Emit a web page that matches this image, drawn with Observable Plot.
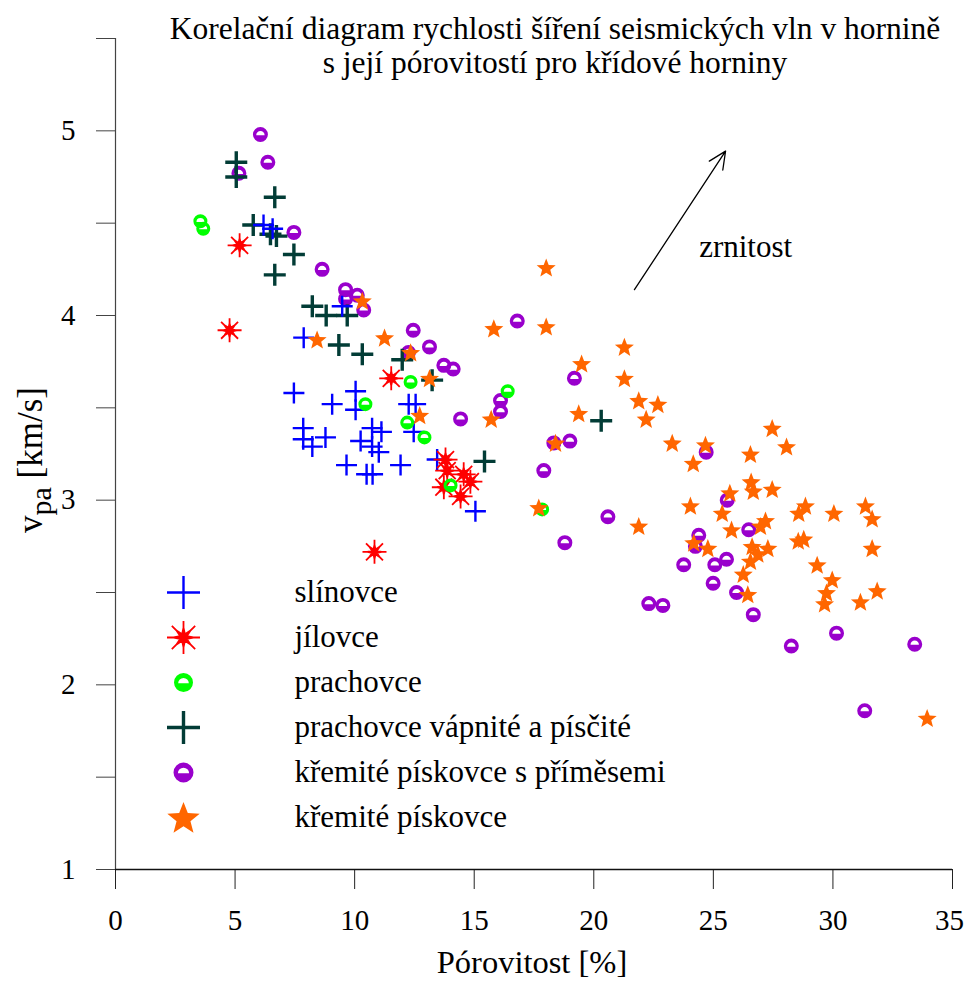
<!DOCTYPE html>
<html><head><meta charset="utf-8">
<script src="https://cdn.jsdelivr.net/npm/d3@7"></script>
<script src="https://cdn.jsdelivr.net/npm/@observablehq/plot@0.6"></script>
<style>
body{margin:0;background:#fff}
svg text, svg tspan {font-family: "Liberation Serif", "Times New Roman", serif !important;}
</style>
</head><body><div id="chart"></div>
<script>
// ---------- texts ----------
const titleText = "Korelační diagram rychlosti šíření seismických vln v hornině\ns její pórovitostí pro křídové horniny";
const xLabel = "Pórovitost [%]";
const yLabelMain = "v", yLabelSub = "pa", yLabelRest = " [km/s]";
const seriesNames = ["slínovce", "jílovce", "prachovce", "prachovce vápnité a písčité", "křemité pískovce s příměsemi", "křemité pískovce"];

// ---------- ticks ----------
const xTicks = [0, 5, 10, 15, 20, 25, 30, 35];
const xTickLabels = ["0", "5", "10", "15", "20", "25", "30", "35"];
const yTicks = [1, 1.5, 2, 2.5, 3, 3.5, 4, 4.5, 5, 5.5];
const yTickLabels = ["1", "", "2", "", "3", "", "4", "", "5", ""];

// ---------- data [porosity %, vpa km/s] ----------
const slinovce = [[6.19,4.49],[6.57,4.47],[9.48,4.05],[7.87,3.88],[7.46,3.58],[9.06,3.52],[10.04,3.59],[10.04,3.49],[12.26,3.52],[12.55,3.52],[12.47,3.37],[7.85,3.39],[7.85,3.33],[8.23,3.29],[8.78,3.34],[10.25,3.32],[10.73,3.39],[11.12,3.37],[10.73,3.29],[11.01,3.26],[9.66,3.19],[10.50,3.14],[10.75,3.14],[11.92,3.19],[13.45,3.22],[15.05,2.94]];
const jilovce = [[4.77,3.92],[5.19,4.38],[11.53,3.66],[10.83,2.72],[13.80,3.22],[13.87,3.16],[14.56,3.14],[14.84,3.10],[13.73,3.07],[14.43,3.02]];
const prachovce = [[3.55,4.51],[3.67,4.47],[10.45,3.52],[12.34,3.64],[12.20,3.42],[12.92,3.34],[16.40,3.59],[14.01,3.08],[17.84,2.95]];
const prachovceVapnite = [[5.05,4.83],[5.05,4.75],[6.66,4.64],[5.76,4.49],[6.48,4.44],[6.73,4.43],[7.46,4.33],[6.66,4.22],[8.23,4.05],[8.81,4.00],[9.69,4.00],[9.34,3.84],[10.32,3.79],[11.99,3.76],[13.24,3.65],[15.43,3.21],[20.31,3.43]];
const piskovcePrimesi = [[6.06,4.98],[6.37,4.83],[5.16,4.77],[7.46,4.45],[8.64,4.25],[9.62,4.14],[10.11,4.11],[9.62,4.09],[10.38,4.03],[12.45,3.92],[12.25,3.80],[13.13,3.83],[13.73,3.73],[14.12,3.71],[16.80,3.97],[16.10,3.54],[16.10,3.48],[14.43,3.44],[19.19,3.66],[18.33,3.31],[19.00,3.32],[17.91,3.16],[20.59,2.91],[18.79,2.77],[24.70,3.26],[25.58,3.00],[26.48,2.84],[24.39,2.81],[24.25,2.75],[23.76,2.65],[25.06,2.65],[25.55,2.68],[24.99,2.55],[25.97,2.50],[22.30,2.44],[22.89,2.43],[26.67,2.38],[30.15,2.28],[28.26,2.21],[33.42,2.22],[31.33,1.86]];
const piskovce = [[10.32,4.08],[8.43,3.87],[11.25,3.88],[12.34,3.80],[13.13,3.66],[12.72,3.46],[15.82,3.93],[18.01,3.94],[18.01,4.26],[15.71,3.44],[17.70,2.96],[21.28,3.83],[19.49,3.74],[21.28,3.66],[21.88,3.54],[22.68,3.52],[22.19,3.44],[19.37,3.47],[18.40,3.31],[23.28,3.31],[24.67,3.30],[24.16,3.20],[27.46,3.39],[28.06,3.29],[26.55,3.25],[26.58,3.10],[27.46,3.06],[26.67,3.05],[25.69,3.04],[24.04,2.97],[25.37,2.93],[25.76,2.84],[26.97,2.86],[27.18,2.89],[28.85,2.97],[28.57,2.93],[30.04,2.93],[31.36,2.97],[31.64,2.90],[31.64,2.74],[28.55,2.78],[28.78,2.79],[24.18,2.77],[24.77,2.74],[26.62,2.75],[27.28,2.74],[26.86,2.71],[26.55,2.67],[26.25,2.60],[26.44,2.49],[29.34,2.65],[29.97,2.57],[29.73,2.50],[29.65,2.44],[31.15,2.45],[31.85,2.51],[33.94,1.82],[21.88,2.86]];

// ---------- annotation ----------
const arrowData = [{x1: 21.70, y1: 4.14, x2: 25.51, y2: 4.89}];
const annotationData = [{x: 26.35, y: 4.37, label: "zrnitost"}];

// ---------- custom symbols ----------
const plusSym = {draw(c, s) { const r = Math.sqrt(s / Math.PI); c.moveTo(-r, 0); c.lineTo(r, 0); c.moveTo(0, -r); c.lineTo(0, r); }};
const asteriskSym = {draw(c, s) {
  const r = Math.sqrt(s / Math.PI);
  for (let k = 0; k < 4; k++) { const a = k * Math.PI / 4; c.moveTo(-r * Math.cos(a), -r * Math.sin(a)); c.lineTo(r * Math.cos(a), r * Math.sin(a)); }
  const ro = r * 0.6, ri = r * 0.22;
  for (let k = 0; k < 16; k++) { const a = k * Math.PI / 8; const rr = k % 2 ? ri : ro; const px = rr * Math.cos(a), py = rr * Math.sin(a); if (k) c.lineTo(px, py); else c.moveTo(px, py); }
  c.closePath();
}};
const bucketSym = {draw(c, s) {
  const R = Math.sqrt(s / Math.PI);
  c.moveTo(R, 0); c.arc(0, 0, R, 0, 2 * Math.PI, false);
  const h = R * 0.56, y0 = R * 0.08;
  c.moveTo(h, y0); c.arc(0, y0, h, 0, -Math.PI, true); c.closePath();
}};
const starSym = {draw(c, s) {
  const R = Math.sqrt(s / Math.PI), ri = R * 0.43, off = R * 0.09;
  for (let k = 0; k < 10; k++) { const a = -Math.PI / 2 + k * Math.PI / 5; const rr = k % 2 ? ri : R; const px = rr * Math.cos(a), py = rr * Math.sin(a) + off; if (k) c.lineTo(px, py); else c.moveTo(px, py); }
  c.closePath();
}};

// ---------- series styling (built from the arrays above) ----------
const series = [
  {name: seriesNames[0], data: slinovce, symbol: plusSym, color: "#0000ff", r: 10.5, lr: 16.5, sw: 2.4, filled: false},
  {name: seriesNames[1], data: jilovce, symbol: asteriskSym, color: "#ff0000", r: 12, lr: 16.5, sw: 1.8, filled: true},
  {name: seriesNames[2], data: prachovce, symbol: bucketSym, color: "#00ff00", r: 7, lr: 9.5, sw: 0, filled: true},
  {name: seriesNames[3], data: prachovceVapnite, symbol: plusSym, color: "#023c36", r: 11, lr: 16.5, sw: 3.4, filled: false},
  {name: seriesNames[4], data: piskovcePrimesi, symbol: bucketSym, color: "#9900cc", r: 7.5, lr: 10, sw: 0, filled: true},
  {name: seriesNames[5], data: piskovce, symbol: starSym, color: "#ff6600", r: 10, lr: 17, sw: 0, filled: true}
];
const drawOrder = [4, 3, 0, 1, 2, 5];
const serif = "Liberation Serif";

function dotOpts(s, r) {
  return {
    symbol: s.symbol, r,
    fill: s.filled ? s.color : "none",
    stroke: s.sw > 0 ? s.color : "none",
    strokeWidth: s.sw
  };
}

const marks = [];
// axes
marks.push(Plot.axisX({ticks: xTicks, tickFormat: () => "", tickSize: 20, label: null, stroke: "#222"}));
const lastX = xTicks.length - 1;
marks.push(Plot.text(xTicks.slice(0, lastX), {x: d => d, frameAnchor: "bottom", lineAnchor: "middle", dy: 51, text: (d, i) => xTickLabels[i], fontSize: 29, fontFamily: serif, fill: "black"}));
marks.push(Plot.text([xTicks[lastX]], {x: d => d, frameAnchor: "bottom", lineAnchor: "middle", dy: 51, dx: -3, text: () => xTickLabels[lastX], fontSize: 29, fontFamily: serif, fill: "black"}));
marks.push(Plot.axisY({ticks: yTicks, tickFormat: (d) => yTickLabels[yTicks.indexOf(d)], tickSize: 19, tickPadding: 21, fontSize: 29, fontFamily: serif, label: null, stroke: "#444"}));
marks.push(Plot.ruleX([0], {y1: 1, y2: 5.5, stroke: "#444", strokeWidth: 1.2}));
marks.push(Plot.ruleY([1], {x1: 0, x2: 35, stroke: "#111", strokeWidth: 1.3}));

// points
for (const i of drawOrder) {
  const s = series[i];
  marks.push(Plot.dot(s.data, {x: d => d[0], y: d => d[1], ...dotOpts(s, s.r)}));
}

// arrow + annotation
marks.push(Plot.arrow(arrowData, {x1: "x1", y1: "y1", x2: "x2", y2: "y2", stroke: "black", strokeWidth: 1.3, headLength: 22, headAngle: 50}));
marks.push(Plot.text(annotationData, {x: "x", y: "y", text: "label", fontSize: 31, fontFamily: serif, fill: "black"}));

// legend
series.forEach((s, i) => {
  marks.push(Plot.dot([s.name], {frameAnchor: "top-left", dx: 68, dy: 554 + i * 45, ...dotOpts(s, s.lr)}));
  marks.push(Plot.text([s.name], {frameAnchor: "top-left", lineAnchor: "middle", textAnchor: "start", dx: 179, dy: 554 + i * 45, text: d => d, fontSize: 31, fontFamily: serif, fill: "black"}));
});

// title and axis labels
marks.push(Plot.text([titleText], {frameAnchor: "top", lineAnchor: "middle", textAnchor: "middle", dx: 21, dy: 7, text: d => d, fontSize: 31.5, lineHeight: 1.08, fontFamily: serif, fill: "black"}));
marks.push(Plot.text([xLabel], {frameAnchor: "bottom", lineAnchor: "middle", textAnchor: "middle", dx: -2, dy: 93, text: d => d, fontSize: 32.5, fontFamily: serif, fill: "black"}));
const yLabelFull = yLabelMain + yLabelSub + yLabelRest;
marks.push(Plot.text([yLabelFull], {frameAnchor: "left", lineAnchor: "middle", textAnchor: "middle", dx: -85, dy: 6, rotate: -90, text: d => d, fontSize: 35, fontFamily: serif, fill: "black"}));

const chart = Plot.plot({
  width: 964, height: 981,
  marginLeft: 115, marginRight: 12, marginTop: 38, marginBottom: 112,
  x: {domain: [0, 35]},
  y: {domain: [1, 5.5]},
  style: {fontFamily: serif, fontSize: "29px", background: "white", color: "black"},
  marks
});

// subscript in the y label
d3.select(chart).selectAll("text").each(function() {
  if (this.textContent === yLabelFull) {
    const t = d3.select(this);
    t.text("");
    t.append("tspan").text(yLabelMain);
    t.append("tspan").attr("dy", 9).attr("font-size", 30).text(yLabelSub);
    t.append("tspan").attr("dy", -9).text(yLabelRest);
  }
});

document.getElementById("chart").appendChild(chart);
</script>
</body></html>
